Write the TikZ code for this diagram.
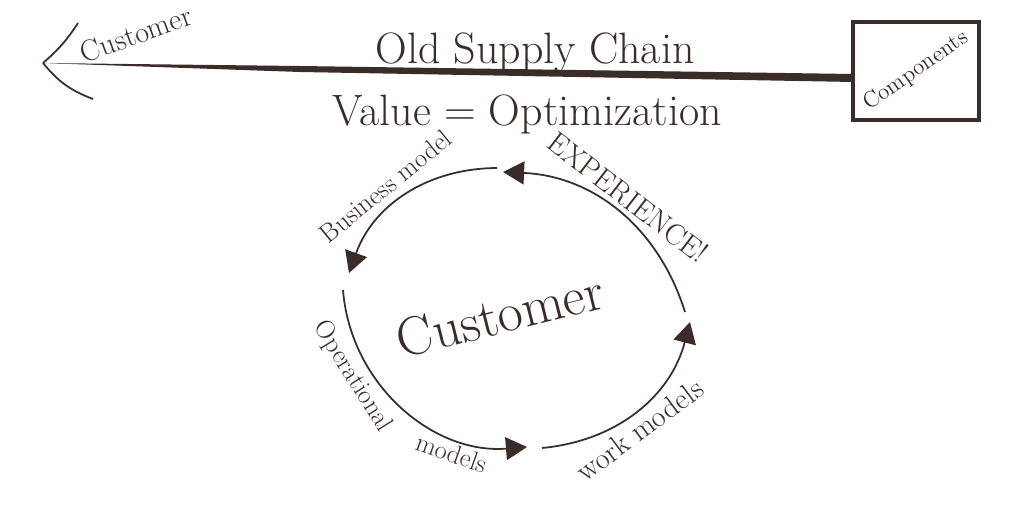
\documentclass[tikz,border=0pt]{standalone}
\usepackage{fontspec}
\usepackage{tikz}
\usetikzlibrary{arrows.meta,positioning}
\definecolor{ink}{HTML}{3A2C29}

\begin{document}
\begin{tikzpicture}[x=0.02cm,y=-0.02cm,->,>={Triangle[length=12pt,width=13pt]},
		line width=1pt,auto,color=ink]
		\tikzstyle{small}=[font=\fontsize{15}{18}\selectfont]
		\tikzstyle{big}=[font=\fontsize{25}{30}\selectfont]
		\useasboundingbox (0,0) rectangle (1024,514);
		
		% old supply chain
		\node[draw,line width=2.5pt,minimum width=2.52cm,minimum height=1.96cm] (comp) at (916,71) {};
		\node[rotate=35,font=\fontsize{13}{15}\selectfont] (complbl) at (comp.center) {Components};
		\coordinate (tip) at (43,63);
		\coordinate (arm1) at (78,23);
		\coordinate (arm2) at (93,99);
		\coordinate (mid1) at (300,66);
		\coordinate (mid2) at (300,72);
		\coordinate (ln1) at (854,74);
		\coordinate (ln2) at (854,82);
		\fill (tip) -- (mid1) -- (ln1) -- (ln2) -- (mid2) -- cycle;
		\draw[-] (tip) to[bend right=8] (arm1);
		\draw[-] (tip) to[bend right=15] (arm2);
		\node[rotate=20,font=\fontsize{17}{20}\selectfont] (cust) at (136,34) {Customer};
		\node[big,anchor=base] (old) at (535,63) {Old Supply Chain};
		\node[big,anchor=base] (value) at (527,125) {Value = Optimization};
		
		% customer loop
		\node[rotate=14,font=\fontsize{31}{36}\selectfont] (centre) at (500,315) {Customer};
		\coordinate (A) at (685,312);
		\coordinate (B) at (503,172);
		\coordinate (C) at (497,168);
		\coordinate (D) at (349,273);
		\coordinate (E) at (343,290);
		\coordinate (F) at (527,447);
		\coordinate (G) at (542,448);
		\coordinate (H) at (690,322);
		
		\path (A) edge[bend right=35] node[small,font=\fontsize{17}{20}\selectfont,sloped,above=0pt] {EXPERIENCE!} (B);
		\path (C) edge[bend right=35] node[small,sloped,above=2pt,pos=0.55] {Business model} (D);
		\path (E) edge[bend right=45] node[small,sloped,below,pos=0.3] {Operational}
			node[small,sloped,below,pos=0.74] {models} (F);
		\path (G) edge[bend right=35] node[small,font=\fontsize{17}{20}\selectfont,sloped,below=0pt,pos=0.45] {work models} (H);
\end{tikzpicture}
\end{document}
